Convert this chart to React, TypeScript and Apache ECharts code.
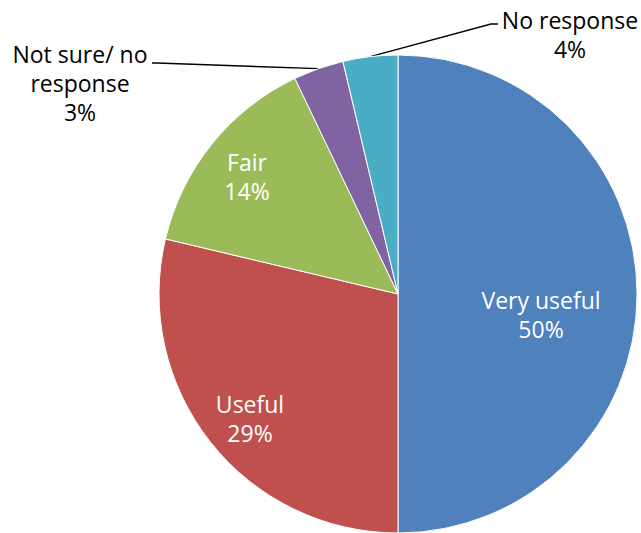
import React, { useEffect, useRef } from "react";
import * as echarts from "echarts";

const categories = ["Very useful", "Useful", "Fair", "Not sure/ no\nresponse", "No response"];
const values = [50, 28.7, 14.2, 3.4, 3.7];
const percentLabels = ["50%", "29%", "14%", "3%", "4%"];
const colors = ["#4F81BD", "#C0504D", "#9BBB59", "#8064A2", "#4BACC6"];
const insideLabel = [true, true, true, false, false];

// label anchor positions (pixels) and leader-line elbows
const labelPos: [number, number][] = [
  [541, 314],
  [250, 418],
  [247, 176],
  [80, 83],
  [570, 34],
];
const lineEnds: ([number, number] | null)[][] = [
  [null, null],
  [null, null],
  [null, null],
  [[157, 63], [152, 63]],
  [[491, 24], [498, 24]],
];

export default function App() {
  const ref = useRef<HTMLDivElement>(null);
  useEffect(() => {
    document.body.style.margin = "0";
    const chart = echarts.init(ref.current!, undefined, { renderer: "svg" });
    chart.setOption({
      animation: false,
      backgroundColor: "#ffffff",
      series: [
        {
          type: "pie",
          center: [398, 294],
          radius: 239,
          startAngle: 90,
          clockwise: true,
          avoidLabelOverlap: false,
          itemStyle: { borderColor: "#ffffff", borderWidth: 1 },
          label: {
            show: true,
            position: "outside",
            fontFamily: "Open Sans",
            fontSize: 23,
            lineHeight: 29,
            color: "#000000",
            align: "center",
            formatter: (p: any) => p.name + "\n" + percentLabels[p.dataIndex],
          },
          labelLine: {
            show: true,
            lineStyle: { color: "#000000", width: 1.5 },
          },
          labelLayout: (params: any) => {
            const i = params.dataIndex;
            const [x, y] = labelPos[i];
            const res: any = { x, y, align: "center", verticalAlign: "middle" };
            if (!insideLabel[i] && params.labelLinePoints) {
              const start = params.labelLinePoints[0];
              res.labelLinePoints = [start, lineEnds[i][0], lineEnds[i][1]];
            }
            return res;
          },
          data: categories.map((name, i) => ({
            name,
            value: values[i],
            itemStyle: { color: colors[i] },
            label: { color: insideLabel[i] ? "#ffffff" : "#000000" },
            labelLine: { show: !insideLabel[i] },
          })),
        },
      ],
    });
    return () => chart.dispose();
  }, []);
  return <div ref={ref} style={{ width: 641, height: 533 }} />;
}
